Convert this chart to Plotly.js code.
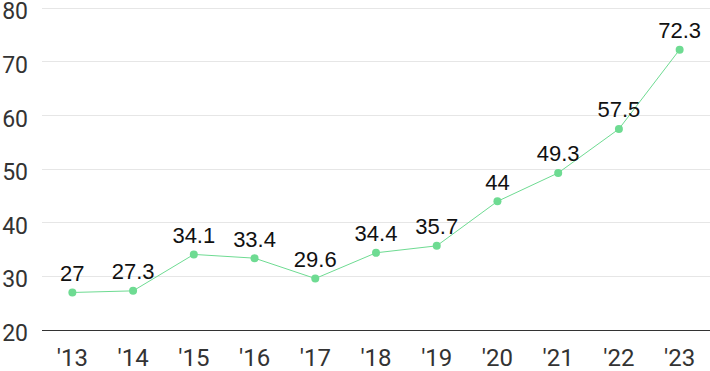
<!DOCTYPE html>
<html><head><meta charset="utf-8">
<script src="https://cdn.plot.ly/plotly-3.0.1.min.js"></script>
<style>html,body{margin:0;padding:0;background:#fff}#c{width:710px;height:371px}</style>
</head><body><div id="c"></div>
<script>
const years = ["'13","'14","'15","'16","'17","'18","'19","'20","'21","'22","'23"];
const values = [27, 27.3, 34.1, 33.4, 29.6, 34.4, 35.7, 44, 49.3, 57.5, 72.3];
const yTicks = [20, 30, 40, 50, 60, 70, 80];

Plotly.newPlot('c', [{
  x: years, y: values, type: 'scatter', mode: 'lines+markers+text',
  text: values.map(String), textposition: 'top center',
  textfont: {family: 'Liberation Sans, Arial, sans-serif', size: 22, color: '#111'},
  line: {color: '#6edb92', width: 1},
  marker: {color: '#6edb92', size: 8},
  cliponaxis: false, hoverinfo: 'none'
}], {
  width: 710, height: 371,
  margin: {l: 42, r: 0, t: 3, b: 41},
  paper_bgcolor: '#fff', plot_bgcolor: '#fff',
  showlegend: false,
  xaxis: {type: 'category', range: [-0.5, 10.5], showgrid: false, zeroline: false,
    showline: true, linecolor: '#333', linewidth: 1, ticks: '',
    tickfont: {family: 'Roboto, sans-serif', size: 24, color: '#333'}, ticklabelstandoff: 6},
  yaxis: {range: [20, 81], tickvals: yTicks, showgrid: true, gridcolor: '#e6e6e6', zeroline: false,
    showline: false, ticks: '', tickfont: {family: 'Roboto, sans-serif', size: 23, color: '#333'},
    ticklabelstandoff: 13, ticklabelshift: 3, ticklabeloverflow: 'allow'}
}, {staticPlot: true});
</script></body></html>
